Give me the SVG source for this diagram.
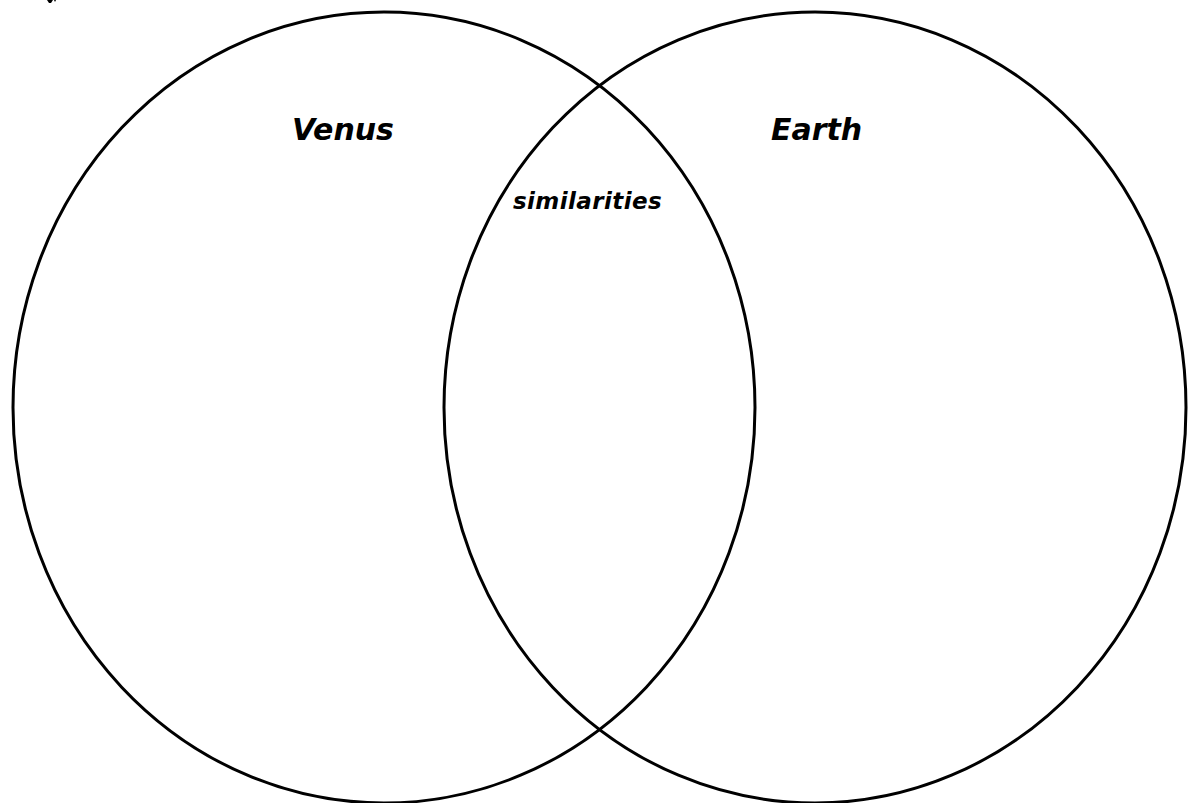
<svg xmlns="http://www.w3.org/2000/svg" width="1190" height="803" viewBox="0 0 1190 803">
<style>
.c{fill:none;stroke:#000;stroke-width:3}
.t{font-family:"DejaVu Sans",Verdana,sans-serif;font-weight:bold;font-style:italic;fill:#000}
</style>
<rect width="1190" height="803" fill="#fff"/>
<path d="M47,0 L53,0 L51,3 L49,3 Z M54,0 L56,0 L55,2 Z" fill="#000"/>
<g id="venus">
<ellipse class="c" cx="384" cy="407.5" rx="371" ry="395.5"/>
<text class="t" x="292" y="140" font-size="30">Venus</text>
</g>
<g id="earth">
<ellipse class="c" cx="815" cy="407.5" rx="371" ry="395.5"/>
<text class="t" x="771" y="140" font-size="30">Earth</text>
</g>
<g id="similarities">
<text class="t" x="513" y="209" font-size="23" letter-spacing="0.4">similarities</text>
</g>
<g id="connectors"/>
</svg>
